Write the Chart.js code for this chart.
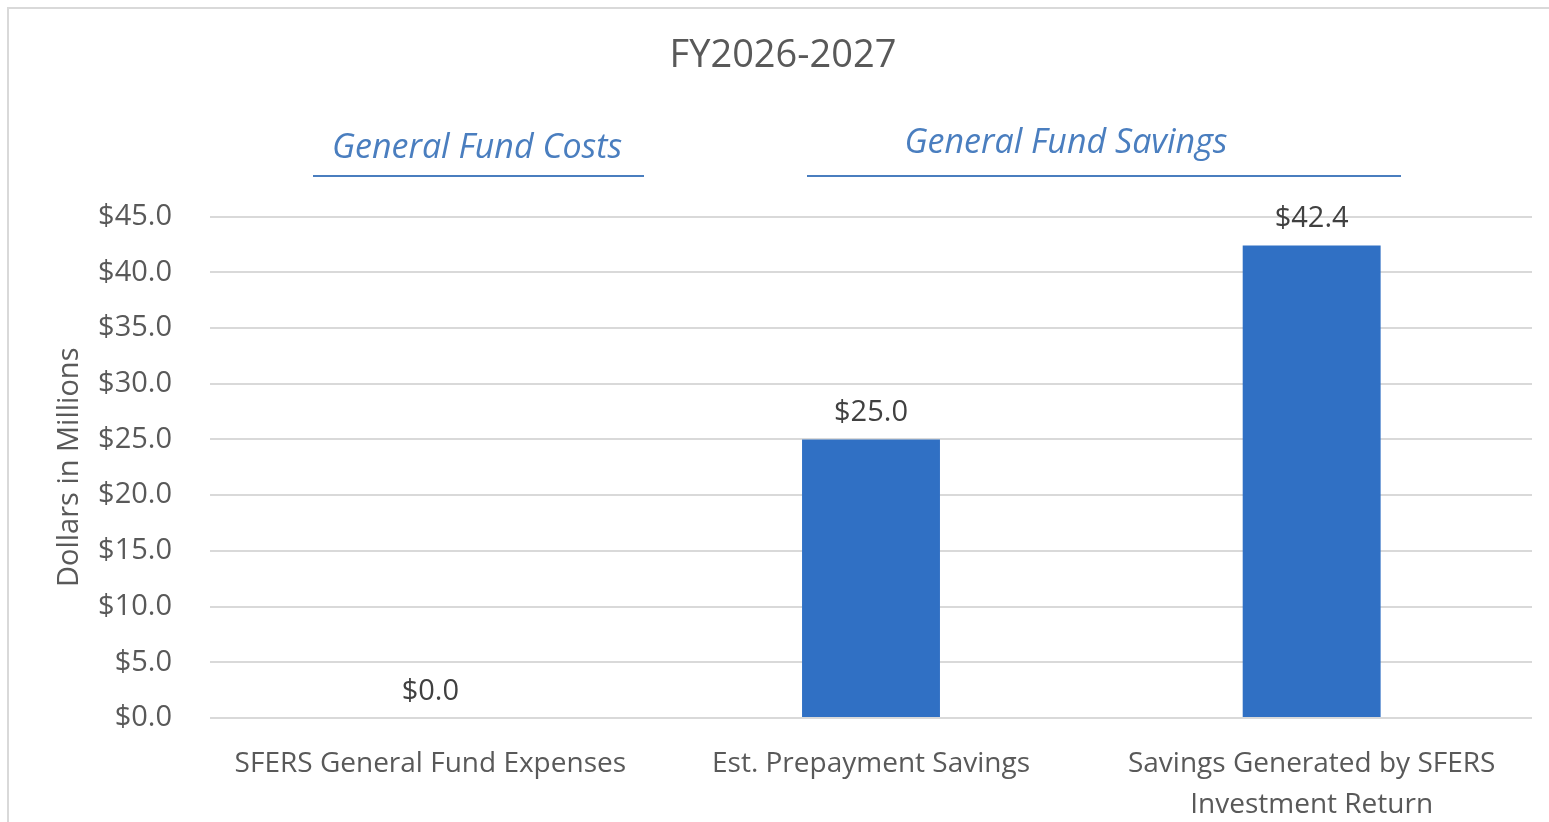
<!DOCTYPE html>
<html>
<head>
<meta charset="utf-8">
<script src="https://cdn.jsdelivr.net/npm/chart.js@4.4.0/dist/chart.umd.min.js"></script>
<style>
  body { margin: 0; background: #fff; overflow: hidden; }
  #wrap { position: relative; width: 1549px; height: 822px; }
  #frame { position: absolute; left: 7px; top: 7px; width: 1560px; height: 830px;
           border: 2px solid #d9d9d9; box-sizing: border-box; }
  canvas { position: absolute; left: 0; top: 0; }
  .grp { position: absolute; font-family: "Open Sans", sans-serif; font-style: italic;
         font-size: 34px; line-height: 40px; color: #4a7ebf; text-align: center; white-space: nowrap; }
  .rule { position: absolute; height: 2px; background: #4a7ebf; }
</style>
</head>
<body>
<div id="wrap">
  <div id="frame"></div>
  <canvas id="fy" width="1549" height="822"></canvas>
  <div class="grp" style="left:327px; width:300px; top:125px;">General Fund Costs</div>
  <div class="rule" style="left:313px; width:331px; top:175px;"></div>
  <div class="grp" style="left:866px; width:400px; top:120px;">General Fund Savings</div>
  <div class="rule" style="left:807px; width:594px; top:175px;"></div>
</div>
<script>
// chart values
const categories = [
    'SFERS General Fund Expenses',
    'Est. Prepayment Savings',
    ['Savings Generated by SFERS', 'Investment Return']
];
const amounts = [0.0, 25.0, 42.4];
const yTicks = [0, 5, 10, 15, 20, 25, 30, 35, 40, 45];

const barColor = '#3070c4';
const textGray = '#595959';

function money(v) {
    return '$' + v.toFixed(1);
}

// draws "$xx.x" above every bar
const barLabels = {
    id: 'barLabels',
    afterDatasetsDraw(chart) {
        const ctx = chart.ctx;
        const meta = chart.getDatasetMeta(0);
        ctx.save();
        ctx.font = '29px "Open Sans"';
        ctx.fillStyle = '#404040';
        ctx.textAlign = 'center';
        ctx.textBaseline = 'bottom';
        meta.data.forEach(function(bar, i) {
            ctx.fillText(money(amounts[i]), bar.x, bar.y - 12);
        });
        ctx.restore();
    }
};

const ctx = document.getElementById('fy');
const chart = new Chart(ctx, {
    type: 'bar',
    data: {
        labels: categories,
        datasets: [{
            data: amounts,
            backgroundColor: barColor,
            borderWidth: 0,
            categoryPercentage: 1,
            barPercentage: 0.313
        }]
    },
    options: {
        responsive: false,
        animation: false,
        layout: { padding: { left: 34, right: 17, top: 0, bottom: 0 } },
        plugins: {
            legend: { display: false },
            tooltip: { enabled: false },
            title: {
                display: true,
                text: 'FY2026-2027',
                color: textGray,
                font: { family: 'Open Sans', size: 38, weight: 'normal', lineHeight: 1.2 },
                padding: { top: 33, bottom: 138 }
            }
        },
        scales: {
            x: {
                grid: { display: false },
                border: { display: false },
                ticks: {
                    color: textGray,
                    padding: 18,
                    maxRotation: 0,
                    autoSkip: false,
                    font: { family: 'Open Sans', size: 28, lineHeight: 1.45 }
                },
                afterFit: function(s) { s.height = 104; }
            },
            y: {
                min: 0,
                max: 45,
                afterBuildTicks: function(s) {
                    s.ticks = yTicks.map(function(v) { return { value: v }; });
                },
                grid: { color: '#d9d9d9', lineWidth: 2, drawTicks: false },
                border: { display: false },
                ticks: {
                    color: textGray,
                    padding: 38,
                    font: { family: 'Open Sans', size: 29 },
                    callback: function(v) { return money(v); }
                },
                title: {
                    display: true,
                    text: 'Dollars in Millions',
                    color: textGray,
                    font: { family: 'Open Sans', size: 29 },
                    padding: { top: 18, bottom: 0 }
                },
                afterFit: function(s) { s.width = 176; }
            }
        }
    },
    plugins: [barLabels]
});
</script>
</body>
</html>
